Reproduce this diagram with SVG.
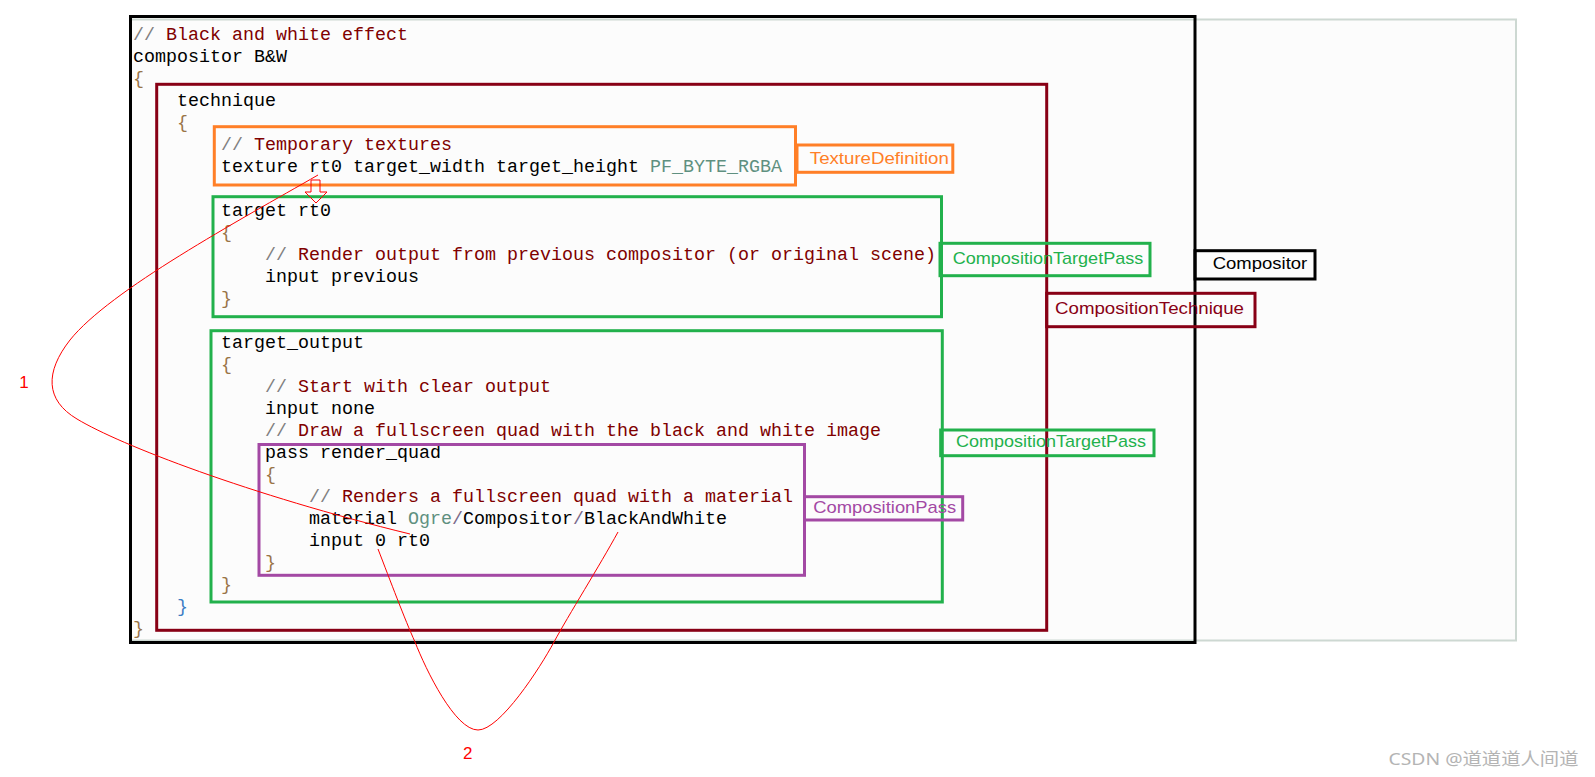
<svg xmlns="http://www.w3.org/2000/svg" width="1595" height="777" viewBox="0 0 1595 777">
<style>
.code{font-family:"Liberation Mono","DejaVu Sans Mono",monospace;font-size:18.33px;fill:#000;white-space:pre}
.sl{fill:#808080}
.cm{fill:#800000}
.br{fill:#9a7448}
.bb{fill:#3c7dc4}
.gg{fill:#5f9080}
.pp{fill:#7a6a8a}
.lbl{font-family:"Liberation Sans",Arial,sans-serif;font-size:17px}
.box{fill:none;stroke-width:3}
.red{fill:none;stroke:#ff0000;stroke-width:1}
.num{font-family:"Liberation Sans",Arial,sans-serif;font-size:17px;fill:#ff0000}
</style>
<rect x="0" y="0" width="1595" height="777" fill="#ffffff"/>
<g id="panel">
<rect x="130" y="19.5" width="1386" height="621" fill="#fcfcfc" stroke="#cdd8d2" stroke-width="2"/>
</g>
<g id="code">
<text class="code" x="133" y="39.5"><tspan class="sl">//</tspan><tspan class="cm"> Black and white effect</tspan></text>
<text class="code" x="133" y="61.5">compositor B&amp;W</text>
<text class="code br" x="133" y="83.5">{</text>
<text class="code" x="177" y="105.5">technique</text>
<text class="code br" x="177" y="127.5">{</text>
<text class="code" x="221" y="149.5"><tspan class="sl">//</tspan><tspan class="cm"> Temporary textures</tspan></text>
<text class="code" x="221" y="171.5">texture rt0 target_width target_height <tspan class="gg">PF_BYTE_RGBA</tspan></text>
<text class="code" x="221" y="215.5">target rt0</text>
<text class="code br" x="221" y="237.5">{</text>
<text class="code" x="265" y="259.5"><tspan class="sl">//</tspan><tspan class="cm"> Render output from previous compositor (or original scene)</tspan></text>
<text class="code" x="265" y="281.5">input previous</text>
<text class="code br" x="221" y="303.5">}</text>
<text class="code" x="221" y="347.5">target_output</text>
<text class="code br" x="221" y="369.5">{</text>
<text class="code" x="265" y="391.5"><tspan class="sl">//</tspan><tspan class="cm"> Start with clear output</tspan></text>
<text class="code" x="265" y="413.5">input none</text>
<text class="code" x="265" y="435.5"><tspan class="sl">//</tspan><tspan class="cm"> Draw a fullscreen quad with the black and white image</tspan></text>
<text class="code" x="265" y="457.5">pass render_quad</text>
<text class="code br" x="265" y="479.5">{</text>
<text class="code" x="309" y="501.5"><tspan class="sl">//</tspan><tspan class="cm"> Renders a fullscreen quad with a material</tspan></text>
<text class="code" x="309" y="523.5">material <tspan class="gg">Ogre</tspan><tspan class="pp">/</tspan>Compositor<tspan class="pp">/</tspan>BlackAndWhite</text>
<text class="code" x="309" y="545.5">input 0 rt0</text>
<text class="code br" x="265" y="567.5">}</text>
<text class="code br" x="221" y="589.5">}</text>
<text class="code bb" x="177" y="611.5">}</text>
<text class="code br" x="133" y="633.5">}</text>
</g>
<g id="compositor">
<rect class="box" x="130.5" y="16.5" width="1064.5" height="626" stroke="#000000"/>
</g>
<g id="technique">
<rect class="box" x="156.7" y="84.3" width="890" height="546" stroke="#880015"/>
</g>
<g id="texture-definition">
<rect class="box" x="214.3" y="126.7" width="581.2" height="58.3" stroke="#ff7f27"/>
</g>
<g id="target-pass-1">
<rect class="box" x="213" y="196.7" width="728.5" height="120" stroke="#22b14c"/>
</g>
<g id="target-pass-2">
<rect class="box" x="211" y="330.7" width="731.3" height="271.3" stroke="#22b14c"/>
</g>
<g id="pass">
<rect class="box" x="259" y="444.5" width="545.5" height="130.8" stroke="#a349a4"/>
</g>
<g id="label-texture-definition">
<rect class="box" x="797" y="145" width="155.8" height="27.3" stroke="#ff7f27"/>
<text class="lbl" x="809.8" y="164.3" fill="#ff7f27" textLength="139" lengthAdjust="spacingAndGlyphs">TextureDefinition</text>
</g>
<g id="label-target-pass-1">
<rect class="box" x="940" y="243.3" width="210" height="32.4" stroke="#22b14c"/>
<text class="lbl" x="952.7" y="264.3" fill="#22b14c" textLength="190.6" lengthAdjust="spacingAndGlyphs">CompositionTargetPass</text>
</g>
<g id="label-compositor">
<rect class="box" x="1195" y="250.7" width="120" height="28.3" stroke="#000000"/>
<text class="lbl" x="1212.7" y="269" fill="#000000" textLength="94.6" lengthAdjust="spacingAndGlyphs">Compositor</text>
</g>
<g id="label-technique">
<rect class="box" x="1046.7" y="293.3" width="208.3" height="33.4" stroke="#880015"/>
<text class="lbl" x="1055" y="314" fill="#880015" textLength="189" lengthAdjust="spacingAndGlyphs">CompositionTechnique</text>
</g>
<g id="label-target-pass-2">
<rect class="box" x="940.7" y="430" width="213.3" height="25.7" stroke="#22b14c"/>
<text class="lbl" x="956" y="446.7" fill="#22b14c" textLength="190" lengthAdjust="spacingAndGlyphs">CompositionTargetPass</text>
</g>
<g id="label-pass">
<rect class="box" x="804.5" y="496.7" width="158.2" height="23.3" stroke="#a349a4"/>
<text class="lbl" x="813.2" y="513.3" fill="#a349a4" textLength="143" lengthAdjust="spacingAndGlyphs">CompositionPass</text>
</g>
<g id="connectors">
<polygon class="red" points="311,180 320,180 320,192 327,192 316,203 305,192 311,192"/>
<path class="red" d="M318,175 C240,220 110,290 70,340 C45,372 45,400 77,419 C120,445 250,495 410,534"/>
<path class="red" d="M378,549 C390,580 405,620 415,642 C426,670 455,730 478,730 C500,730 540,668 554,642 C568,616 600,565 618,532"/>
<text class="num" x="24" y="388" text-anchor="middle">1</text>
<text class="num" x="467.7" y="759" text-anchor="middle">2</text>
</g>
<text x="1388.5" y="765" font-family="'Noto Sans','Noto Sans CJK SC',sans-serif" font-size="17" fill="#b4b4b4" textLength="190" lengthAdjust="spacingAndGlyphs">CSDN @道道道人间道</text>
</svg>
